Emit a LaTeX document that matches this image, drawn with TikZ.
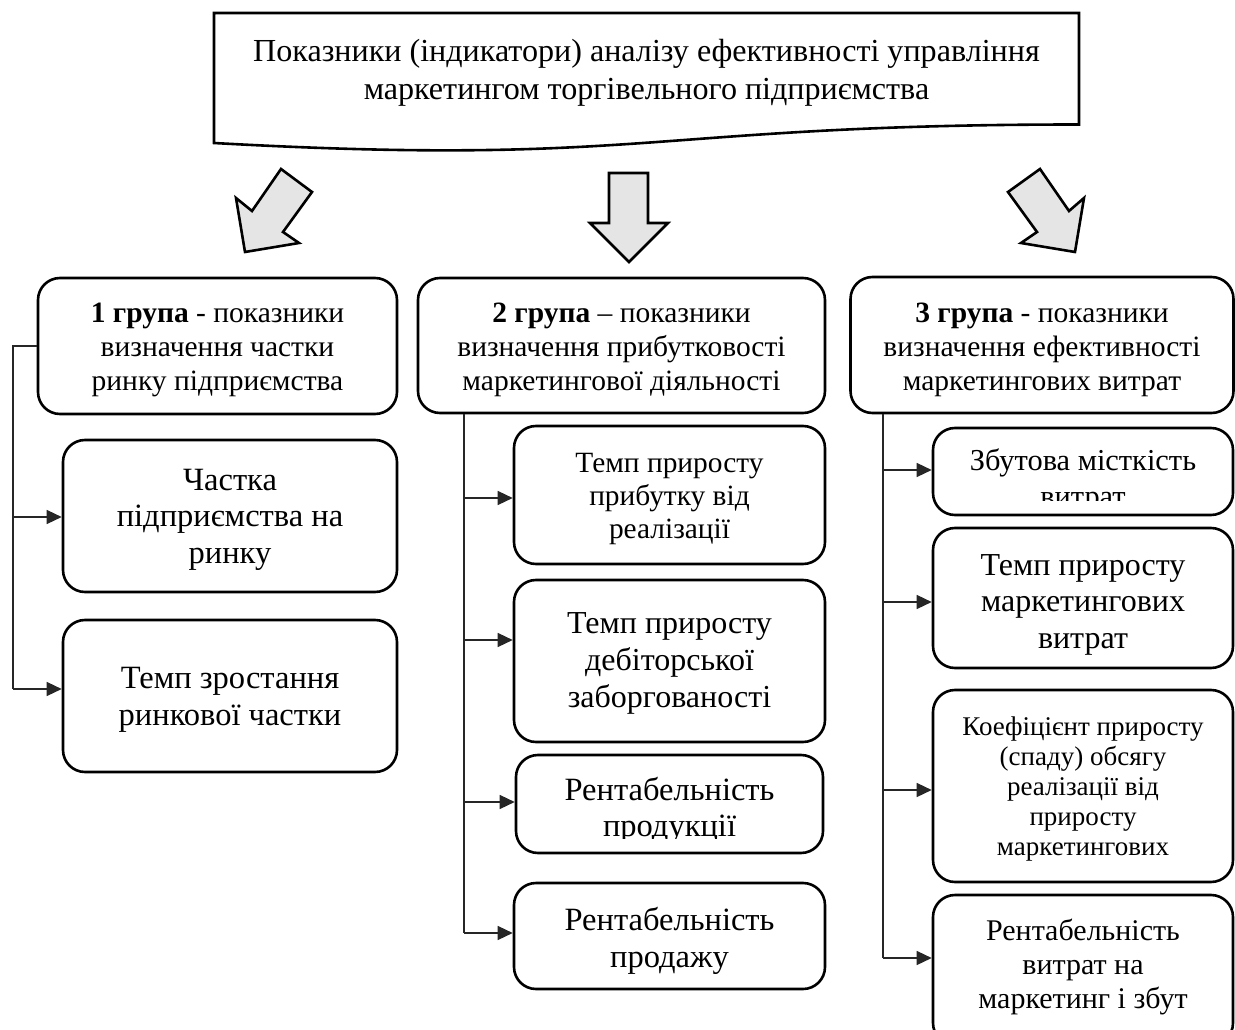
\documentclass[tikz,border=0pt]{standalone}
\usepackage{fontspec}
\setmainfont{Liberation Serif}
\usetikzlibrary{arrows.meta,calc}
\begin{document}
\begin{tikzpicture}[x=1pt,y=-1pt,
  box/.style={draw=black, line width=2.6pt, rounded corners=22pt, fill=white, inner sep=0pt},
  conn/.style={draw=black!85, line width=1.4pt},
  arr/.style={conn, -{Triangle[length=15pt,width=14pt]}},
  blk/.style={draw=black, line width=2.6pt, fill=black!10, line join=miter},
  txt/.style={inner sep=0pt, anchor=base, align=center},
]
\useasboundingbox (0,0) rectangle (1235,1030);
\clip (0,0) rectangle (1235,1030);

% title document shape (text anchored at baseline of its last line)
\draw[line width=2.6pt, fill=white] (214,13) -- (1079,13) -- (1079,124.5)
  .. controls (646.5,124.5) and (646.5,167) .. (214,143) -- cycle;
\node[txt, font=\fontsize{32.1}{38}\selectfont] (title) at (646.5,100)
  {Показники (індикатори) аналізу ефективності управління\\маркетингом торгівельного підприємства};

% block arrows
\draw[blk] (281,169) -- (312,192) -- (283,232) -- (299,243) -- (245,252) -- (236,198) -- (252,211) -- cycle;
\draw[blk] (609,173) -- (648,173) -- (648,223) -- (668,223) -- (629,262) -- (590,223) -- (609,223) -- cycle;
\draw[blk] (1040,169) -- (1008,192) -- (1037,232) -- (1021,243) -- (1075,252) -- (1084,198) -- (1069,211) -- cycle;

% group boxes
\node[box, minimum width=359pt, minimum height=136pt] (G1) at (217.5,346) {};
\node[txt, font=\fontsize{29.5}{34}\selectfont] (G1t) at (217.5,390)
  {\textbf{1 група} - показники\\визначення частки\\ринку підприємства};
\node[box, minimum width=407pt, minimum height=135pt] (G2) at (621.5,345.5) {};
\node[txt, font=\fontsize{29.5}{34}\selectfont] (G2t) at (621.5,390)
  {\textbf{2 група} – показники\\визначення прибутковості\\маркетингової діяльності};
\node[box, minimum width=383pt, minimum height=136pt] (G3) at (1042,345) {};
\node[txt, font=\fontsize{29.5}{34}\selectfont] (G3t) at (1042,390)
  {\textbf{3 група} - показники\\визначення ефективності\\маркетингових витрат};

% column 1
\node[box, minimum width=334pt, minimum height=152pt] (A1) at (230,516) {};
\node[txt, font=\fontsize{32.5}{36.5}\selectfont] (A1t) at (230,563)
  {Частка\\підприємства на\\ринку};
\node[box, minimum width=334pt, minimum height=152pt] (A2) at (230,696) {};
\node[txt, font=\fontsize{32.5}{37}\selectfont] (A2t) at (230,725)
  {Темп зростання\\ринкової частки};

% column 2
\node[box, minimum width=311pt, minimum height=138pt] (B1) at (669.5,495) {};
\node[txt, font=\fontsize{29.4}{33}\selectfont] (B1t) at (669.5,538)
  {Темп приросту\\прибутку від\\реалізації};
\node[box, minimum width=311pt, minimum height=162pt] (B2) at (669.5,661) {};
\node[txt, font=\fontsize{32}{37}\selectfont] (B2t) at (669.5,707)
  {Темп приросту\\дебіторської\\заборгованості};
\node[box, minimum width=307pt, minimum height=98pt] (B3) at (669.5,804) {};
\begin{scope}
  \clip (516,755) rectangle (823,838);
  \node[txt, font=\fontsize{32.5}{36}\selectfont] (B3t) at (669.5,836) {Рентабельність\\продукції};
\end{scope}
\node[box, minimum width=311pt, minimum height=106pt] (B4) at (669.5,936) {};
\node[txt, font=\fontsize{32.5}{37}\selectfont] (B4t) at (669.5,967)
  {Рентабельність\\продажу};

% column 3
\node[box, minimum width=300pt, minimum height=87pt] (C1) at (1083,471.5) {};
\begin{scope}
  \clip (933,428) rectangle (1233,500);
  \node[txt, font=\fontsize{30.4}{36}\selectfont] (C1t) at (1083,506) {Збутова місткість\\витрат};
\end{scope}
\node[box, minimum width=300pt, minimum height=140pt] (C2) at (1083,598) {};
\node[txt, font=\fontsize{32}{36.5}\selectfont] (C2t) at (1083,648)
  {Темп приросту\\маркетингових\\витрат};
\node[box, minimum width=300pt, minimum height=192pt] (C3) at (1083,786) {};
\node[txt, font=\fontsize{27}{30}\selectfont] (C3t) at (1083,855)
  {Коефіцієнт приросту\\(спаду) обсягу\\реалізації від\\приросту\\маркетингових};
\node[box, minimum width=300pt, minimum height=150pt] (C4) at (1083,970) {};
\node[txt, font=\fontsize{30}{34}\selectfont] (C4t) at (1083,1008)
  {Рентабельність\\витрат на\\маркетинг і збут};

% connectors
\coordinate (L1) at (13,0);
\coordinate (L2) at (464,0);
\coordinate (L3) at (883,0);

\draw[conn] (G1.west) -- (G1.west -| L1) -- ($(A2.west -| L1)+(0,-7)$);
\draw[arr] ($(A1.west -| L1)+(0,1)$) -- ($(A1.west)+(0,1)$);
\draw[arr] ($(A2.west -| L1)+(0,-7)$) -- ($(A2.west)+(0,-7)$);

\draw[conn] (G2.south -| L2) -- ($(B4.west -| L2)+(0,-3)$);
\draw[arr] ($(B1.west -| L2)+(0,3)$) -- ($(B1.west)+(0,3)$);
\draw[arr] ($(B2.west -| L2)+(0,-21)$) -- ($(B2.west)+(0,-21)$);
\draw[arr] ($(B3.west -| L2)+(0,-2)$) -- ($(B3.west)+(0,-2)$);
\draw[arr] ($(B4.west -| L2)+(0,-3)$) -- ($(B4.west)+(0,-3)$);

\draw[conn] (G3.south -| L3) -- ($(C4.west -| L3)+(0,-12)$);
\draw[arr] ($(C1.west -| L3)+(0,-1.5)$) -- ($(C1.west)+(0,-1.5)$);
\draw[arr] ($(C2.west -| L3)+(0,4)$) -- ($(C2.west)+(0,4)$);
\draw[arr] ($(C3.west -| L3)+(0,4)$) -- ($(C3.west)+(0,4)$);
\draw[arr] ($(C4.west -| L3)+(0,-12)$) -- ($(C4.west)+(0,-12)$);
\end{tikzpicture}
\end{document}
